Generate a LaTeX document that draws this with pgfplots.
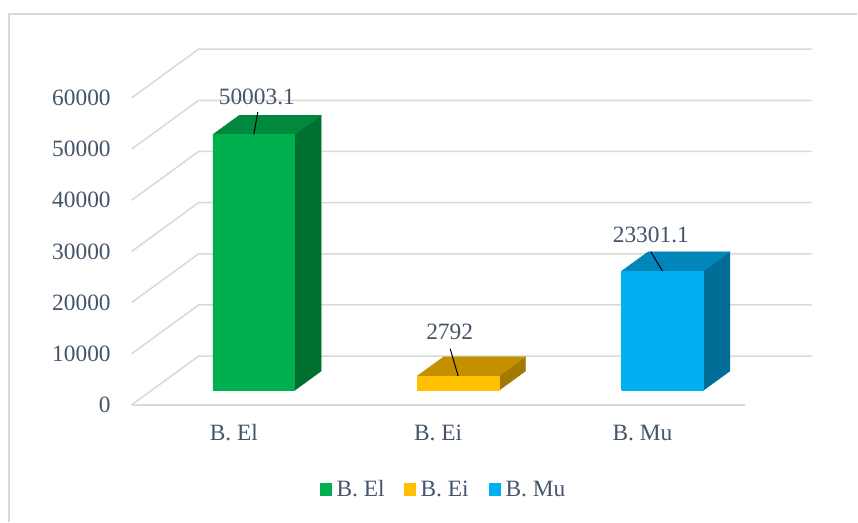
\documentclass[border=0pt]{standalone}
\usepackage{pgfplots}
\pgfplotsset{compat=1.18}
\usepackage{fontspec}
\setmainfont{Liberation Serif}
\definecolor{txt}{HTML}{44546A}
\definecolor{grd}{HTML}{D9D9D9}
\definecolor{gF}{HTML}{00B050}\definecolor{gT}{HTML}{00883D}\definecolor{gS}{HTML}{007030}
\definecolor{yF}{HTML}{FFC000}\definecolor{yT}{HTML}{C49000}\definecolor{yS}{HTML}{A27A00}
\definecolor{bF}{HTML}{00B0F0}\definecolor{bT}{HTML}{0086B8}\definecolor{bS}{HTML}{006E97}
\begin{document}
\begin{tikzpicture}[every node/.append style={text=txt, font=\fontsize{11.7}{14}\selectfont}]
\begin{axis}[
  x={(102.25pt,0pt)}, y={(13.25pt,9.65pt)}, z={(0pt,0.0025625pt)},
  xmin=-0.5, xmax=2.5, ymin=-0.755, ymax=1.774, zmin=0, zmax=60000,
  hide axis, clip=false,
]
% gridlines: left wall diagonals and back wall lines
\pgfplotsinvokeforeach{0,10000,20000,30000,40000,50000,60000}{
  \addplot3[grd, line width=0.75pt] coordinates {(-0.5,-0.755,#1) (-0.5,1.774,#1) (2.5,1.774,#1)};
  \node[anchor=east, inner sep=0pt] at (axis cs:-0.5,-0.755,#1) [xshift=-10.3pt] {#1};
}
% front floor edge
\addplot3[grd, line width=0.75pt] coordinates {(-0.5,-0.755,0) (2.5,-0.755,0)};

% B. El = 50003.1
\addplot3[fill=gS, draw=gS, line width=0.2pt] coordinates {(0.2,0,0) (0.2,1,0) (0.2,1,50003.1) (0.2,0,50003.1) (0.2,0,0)};
\addplot3[fill=gT, draw=gT, line width=0.2pt] coordinates {(-0.2,0,50003.1) (0.2,0,50003.1) (0.2,1,50003.1) (-0.2,1,50003.1) (-0.2,0,50003.1)};
\addplot3[fill=gF, draw=gF, line width=0.2pt] coordinates {(-0.2,0,0) (0.2,0,0) (0.2,0,50003.1) (-0.2,0,50003.1) (-0.2,0,0)};
% B. Ei = 2792
\addplot3[fill=yS, draw=yS, line width=0.2pt] coordinates {(1.2,0,0) (1.2,1,0) (1.2,1,2792) (1.2,0,2792) (1.2,0,0)};
\addplot3[fill=yT, draw=yT, line width=0.2pt] coordinates {(0.8,0,2792) (1.2,0,2792) (1.2,1,2792) (0.8,1,2792) (0.8,0,2792)};
\addplot3[fill=yF, draw=yF, line width=0.2pt] coordinates {(0.8,0,0) (1.2,0,0) (1.2,0,2792) (0.8,0,2792) (0.8,0,0)};
% B. Mu = 23301.1
\addplot3[fill=bS, draw=bS, line width=0.2pt] coordinates {(2.2,0,0) (2.2,1,0) (2.2,1,23301.1) (2.2,0,23301.1) (2.2,0,0)};
\addplot3[fill=bT, draw=bT, line width=0.2pt] coordinates {(1.8,0,23301.1) (2.2,0,23301.1) (2.2,1,23301.1) (1.8,1,23301.1) (1.8,0,23301.1)};
\addplot3[fill=bF, draw=bF, line width=0.2pt] coordinates {(1.8,0,0) (2.2,0,0) (2.2,0,23301.1) (1.8,0,23301.1) (1.8,0,0)};

% value labels with leader lines
\draw[black, line width=0.5pt] (axis cs:0,0,50003.1) -- ++(2pt,11.15pt);
\node at (axis cs:0,0,50003.1) [xshift=1.5pt, yshift=19pt] {50003.1};
\draw[black, line width=0.5pt] (axis cs:1,0,2792) -- ++(-4pt,13.7pt);
\node at (axis cs:1,0,2792) [xshift=-4.25pt, yshift=22.2pt] {2792};
\draw[black, line width=0.5pt] (axis cs:2,0,23301.1) -- ++(-5.85pt,9.7pt);
\node at (axis cs:2,0,23301.1) [xshift=-5.85pt, yshift=18.3pt] {23301.1};

% category labels
\node at (axis cs:0,-0.755,0) [yshift=-14pt] {B. El};
\node at (axis cs:1,-0.755,0) [yshift=-14pt] {B. Ei};
\node at (axis cs:2,-0.755,0) [yshift=-14pt] {B. Mu};

\coordinate (TL) at (axis cs:-1.24205,0,76292.7);
\end{axis}
\begin{scope}[shift={(TL)}, x=0.5pt, y=-0.5pt]
\path (0,0) rectangle (858,522);
\draw[grd, line width=0.65pt] (9,522) -- (9,14) -- (858,14);
\fill[gF] (320.7,483.3) rectangle (332.3,496);
\node[anchor=base west, inner sep=0pt] at (336.5,496.7) {B. El};
\fill[yF] (404.3,483.3) rectangle (416,496);
\node[anchor=base west, inner sep=0pt] at (420.5,496.7) {B. Ei};
\fill[bF] (489,483.3) rectangle (501,496);
\node[anchor=base west, inner sep=0pt] at (505.5,496.7) {B. Mu};
\end{scope}
\end{tikzpicture}
\end{document}
